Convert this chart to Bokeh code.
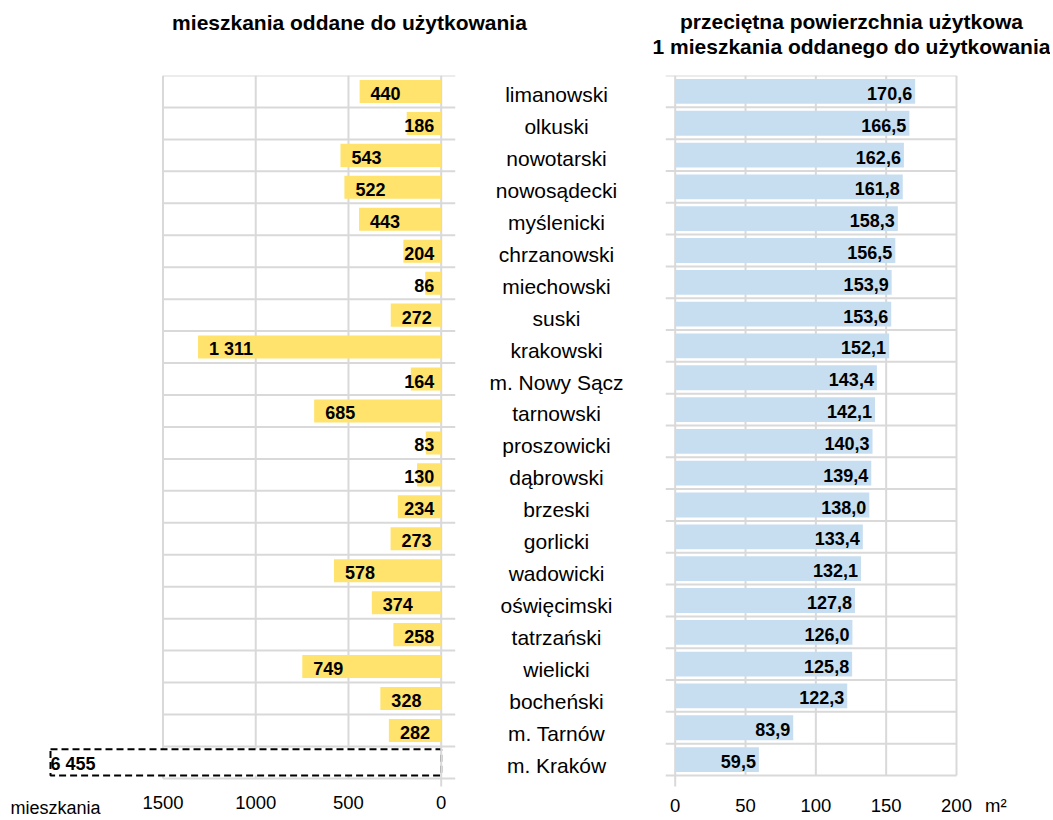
from bokeh.plotting import figure
from bokeh.models import Range1d, ColumnDataSource, FixedTicker
from bokeh.layouts import column, row
from bokeh.embed import file_html
from bokeh.resources import INLINE
from bokeh.core.properties import value

# ---------------- data ----------------
categories = ["limanowski", "olkuski", "nowotarski", "nowosądecki", "myślenicki",
              "chrzanowski", "miechowski", "suski", "krakowski", "m. Nowy Sącz",
              "tarnowski", "proszowicki", "dąbrowski", "brzeski", "gorlicki",
              "wadowicki", "oświęcimski", "tatrzański", "wielicki", "bocheński",
              "m. Tarnów", "m. Kraków"]
dwellings = [440, 186, 543, 522, 443, 204, 86, 272, 1311, 164, 685, 83, 130, 234,
             273, 578, 374, 258, 749, 328, 282, 6455]
area = [170.6, 166.5, 162.6, 161.8, 158.3, 156.5, 153.9, 153.6, 152.1, 143.4, 142.1,
        140.3, 139.4, 138.0, 133.4, 132.1, 127.8, 126.0, 125.8, 122.3, 83.9, 59.5]
dwell_ticks = [0, 500, 1000, 1500]
area_ticks = [0, 50, 100, 150, 200]
title_left = "mieszkania oddane do użytkowania"
title_right = ["przeciętna powierzchnia użytkowa", "1 mieszkania oddanego do użytkowania"]
unit_left = "mieszkania"
unit_right = "m²"

# ---------------- style ----------------
FONT = "Liberation Sans"
YELLOW = "#FFE36D"
BLUE = "#C7DEF1"
GRID = "#D9D9D9"
TXT = "#000000"

TOTAL_W = 1050
TOTAL_H = 820
TITLE_H = 60
ROW_H = TOTAL_H - TITLE_H
ROW_TOP = TITLE_H
AXIS_Y_PX = 786          # where the x axes sit (page px)

# left panel geometry (page pixels)
L_LEFT, L_W = 0, 466
L_FRAME = (4, 455)
L_ZERO, L_SCALE = 440.7, 278.2 / 1500
L_TOP, L_ROW = 75, 31.95
BOX_LEFT_PX = 50
UNIT_L_PX = (10, 807)
# middle
M_LEFT, M_W = L_LEFT + L_W, 180
# right panel
R_LEFT = M_LEFT + M_W
R_W = TOTAL_W - R_LEFT
R_FRAME = (665, 1012)
R_ZERO, R_SCALE = 674.7, (956 - 674.7) / 200
R_TOP, R_ROW = 74, 31.86
UNIT_R_PX = 995

n = len(categories)
rows = list(range(n))


def fmt_int(v):
    return f"{v:,}".replace(",", " ")


def fmt_dec(v):
    return f"{v:.1f}".replace(".", ",")


def base_fig(width, page_left, frame, frame_top, x_range, y_range, axis_y=None):
    p = figure(width=width, height=ROW_H, x_range=x_range, y_range=y_range,
               output_backend="svg", toolbar_location=None,
               y_axis_location=None, x_axis_location="below" if axis_y is not None else None,
               min_border_left=frame[0] - page_left,
               min_border_right=page_left + width - frame[1],
               min_border_top=frame_top - ROW_TOP,
               min_border_bottom=0)
    p.outline_line_color = None
    p.xgrid.visible = False
    p.ygrid.visible = False
    p.background_fill_color = "white"
    p.border_fill_color = "white"
    if axis_y is not None:
        ax = p.xaxis[0]
        ax.fixed_location = axis_y
        ax.axis_line_color = None
        ax.major_tick_line_color = None
        ax.minor_tick_line_color = None
        ax.major_label_text_font = FONT
        ax.major_label_text_font_size = "18.5px"
        ax.major_label_text_color = TXT
    return p


# ---------------- left panel ----------------
lx = Range1d(start=(L_ZERO - L_FRAME[0]) / L_SCALE, end=(L_ZERO - L_FRAME[1]) / L_SCALE)
ly_start = (TOTAL_H - L_TOP) / L_ROW - 0.5
l_axis_y = (AXIS_Y_PX - L_TOP) / L_ROW - 0.5
pl = base_fig(L_W, L_LEFT, L_FRAME, L_TOP, lx, Range1d(start=ly_start, end=-0.5), axis_y=l_axis_y)
axl = pl.xaxis[0]
axl.ticker = FixedTicker(ticks=dwell_ticks)
axl.major_label_standoff = 3

hy = [i - 0.5 for i in range(n + 1)]
pl.segment(x0=max(dwell_ticks), x1=lx.end, y0=hy, y1=hy, line_color=GRID, line_width=2)
vt = [t for t in dwell_ticks if t != 0]
pl.segment(x0=vt, x1=vt, y0=-0.5, y1=n - 0.5, line_color=GRID, line_width=2)

cap = (L_ZERO - BOX_LEFT_PX) / L_SCALE
in_rows = [r for r in rows if dwellings[r] <= cap]
out_rows = [r for r in rows if dwellings[r] > cap]

# truncated (off-scale) bar: dashed white box
pl.quad(left=cap, right=0, top=[r - 0.41 for r in out_rows], bottom=[r + 0.41 for r in out_rows],
        fill_color="white", line_color="black", line_width=2, line_dash="7 4")
pl.segment(x0=[0], x1=[0], y0=[-0.5], y1=[l_axis_y], line_color=GRID, line_width=2)
pl.hbar(y=in_rows, left=0, right=[dwellings[r] for r in in_rows], height=0.72,
        fill_color=YELLOW, line_color=None)

l_txt, l_x = [], []
for r in rows:
    v = dwellings[r]
    t = fmt_int(v)
    l_txt.append(t)
    if v > cap:
        l_x.append(cap)
    else:
        l_x.append(max(v - 11 / L_SCALE, (len(t) * 10 + 7) / L_SCALE))
pl.text(x="x", y="y", text="t", source=ColumnDataSource(dict(x=l_x, y=rows, t=l_txt)),
        text_font=value(FONT), text_font_style="bold", text_font_size="18px",
        text_color=TXT, text_align="left", text_baseline="middle", y_offset=2)

# unit label under the left axis
pl.text(x=[(L_ZERO - UNIT_L_PX[0]) / L_SCALE], y=[(UNIT_L_PX[1] - L_TOP) / L_ROW - 0.5],
        text=[unit_left], text_font=value(FONT), text_font_size="18px",
        text_color=TXT, text_align="left", text_baseline="middle")

# ---------------- middle (category names) ----------------
pm = base_fig(M_W, M_LEFT, (M_LEFT, M_LEFT + M_W), L_TOP, Range1d(0, 1),
              Range1d(start=ly_start, end=-0.5))
pm.text(x=0.5, y=rows, text=categories, text_font=value(FONT), text_font_size="21px",
        text_color=TXT, text_align="center", text_baseline="middle", y_offset=3)

# ---------------- right panel ----------------
rx = Range1d(start=(R_FRAME[0] - R_ZERO) / R_SCALE, end=(R_FRAME[1] - R_ZERO) / R_SCALE)
ry_start = (TOTAL_H - R_TOP) / R_ROW - 0.5
r_axis_y = (AXIS_Y_PX - R_TOP) / R_ROW - 0.5
pr = base_fig(R_W, R_LEFT, R_FRAME, R_TOP, rx, Range1d(start=ry_start, end=-0.5), axis_y=r_axis_y)
axr = pr.xaxis[0]
unit_pos = round((UNIT_R_PX - R_ZERO) / R_SCALE)
axr.ticker = FixedTicker(ticks=area_ticks + [unit_pos])
axr.major_label_overrides = {unit_pos: unit_right}
axr.major_label_standoff = 2

pr.segment(x0=rx.start, x1=max(area_ticks), y0=hy, y1=hy, line_color=GRID, line_width=2)
vt = [t for t in area_ticks if t != 0]
pr.segment(x0=vt, x1=vt, y0=-0.5, y1=n - 0.5, line_color=GRID, line_width=2)
pr.segment(x0=[0], x1=[0], y0=[-0.5], y1=[r_axis_y], line_color=GRID, line_width=2)
pr.hbar(y=rows, left=0, right=area, height=0.78, fill_color=BLUE, line_color=None)
pr.text(x="x", y="y", text="t",
        source=ColumnDataSource(dict(x=area, y=rows, t=[fmt_dec(v) for v in area])),
        text_font=value(FONT), text_font_style="bold", text_font_size="18px",
        text_color=TXT, text_align="right", text_baseline="middle", x_offset=-3, y_offset=2)

# ---------------- titles ----------------
pt = figure(width=TOTAL_W, height=TITLE_H, output_backend="svg", toolbar_location=None,
            x_range=Range1d(0, TOTAL_W), y_range=Range1d(TITLE_H, 0),
            x_axis_location=None, y_axis_location=None, min_border=0)
pt.outline_line_color = None
pt.xgrid.visible = False
pt.ygrid.visible = False
pt.text(x=[349, 851, 851], y=[22, 21, 46], text=[title_left] + title_right,
        text_font=value(FONT), text_font_style="bold", text_font_size="21px",
        text_color=TXT, text_align="center", text_baseline="middle")

layout = column(pt, row(pl, pm, pr, spacing=0), spacing=0)
open("out.html", "w").write(file_html(layout, INLINE))
